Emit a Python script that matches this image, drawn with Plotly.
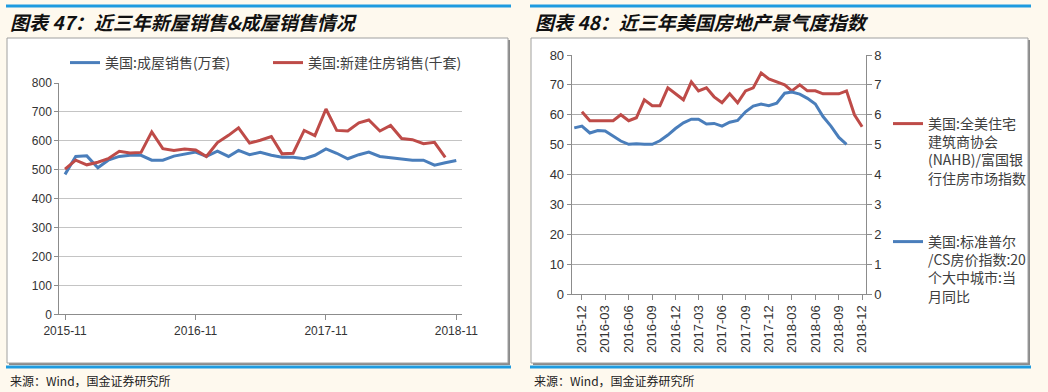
import plotly.graph_objects as go
import pandas as pd

# ---------------- data ----------------
left_months = pd.date_range("2015-11-01", periods=37, freq="MS")
existing_sales = [484, 546, 548, 507, 533, 546, 550, 550, 533, 533, 547, 553, 561,
                  546, 564, 546, 567, 552, 560, 550, 543, 543, 538, 550, 572, 557,
                  538, 552, 561, 546, 541, 538, 533, 533, 516, 524, 532]
new_months = pd.date_range("2015-11-01", periods=36, freq="MS")
new_sales = [502, 533, 517, 526, 538, 564, 558, 560, 631, 573, 567, 572, 568,
             546, 594, 619, 645, 592, 602, 615, 555, 557, 636, 618, 710, 636,
             634, 662, 672, 634, 653, 608, 604, 590, 595, 543]
left_ticks = ["2015-11-01", "2016-11-01", "2017-11-01", "2018-11-01"]

nahb_months = pd.date_range("2015-12-01", periods=37, freq="MS")
nahb = [61, 58, 58, 58, 58, 60, 58, 59, 65, 63, 63, 69, 67, 65, 71, 68, 69, 66, 64,
        67, 64, 68, 69, 74, 72, 71, 70, 68, 70, 68, 68, 67, 67, 67, 68, 60, 56]
cs_months = pd.date_range("2015-11-01", periods=36, freq="MS")
cs_yoy = [5.56, 5.62, 5.39, 5.47, 5.46, 5.29, 5.12, 5.01, 5.03, 5.01, 5.01, 5.13,
          5.32, 5.54, 5.73, 5.85, 5.85, 5.69, 5.71, 5.62, 5.75, 5.81, 6.10, 6.29,
          6.36, 6.30, 6.39, 6.72, 6.76, 6.69, 6.55, 6.36, 5.94, 5.62, 5.24, 5.01]

left_names = ["美国:成屋销售(万套)", "美国:新建住房销售(千套)"]
nahb_name = "美国:全美住宅<br>建筑商协会<br>(NAHB)/富国银<br>行住房市场指数"
cs_name = "美国:标准普尔<br>/CS房价指数:20<br>个大中城市:当<br>月同比"
titles = ["图表 47：近三年新屋销售&成屋销售情况", "图表 48：近三年美国房地产景气度指数"]
source = "来源：Wind，国金证券研究所"

# ---------------- style ----------------
W, H = 1048, 392
BLUE = "#4A7EBB"
RED = "#BE4B48"
CJK = "Noto Sans CJK SC"
NUM = "Liberation Sans"
BG = "#FEF9EE"
ACCENT = "#1E9BE0"
GRID = "#C4C4C4"
AXIS = "#8C8C8C"
TXT = "#333333"


def fx(p):
    return p / W


def fy(p):
    return 1 - p / H


fig = go.Figure()
fig.add_trace(go.Scatter(x=left_months, y=existing_sales, mode="lines", name=left_names[0],
                         line=dict(color=BLUE, width=3), xaxis="x", yaxis="y", legend="legend"))
fig.add_trace(go.Scatter(x=new_months, y=new_sales, mode="lines", name=left_names[1],
                         line=dict(color=RED, width=3), xaxis="x", yaxis="y", legend="legend"))
fig.add_trace(go.Scatter(x=nahb_months, y=nahb, mode="lines", name=nahb_name,
                         line=dict(color=RED, width=3), xaxis="x2", yaxis="y2", legend="legend2"))
fig.add_trace(go.Scatter(x=cs_months, y=cs_yoy, mode="lines", name=cs_name,
                         line=dict(color=BLUE, width=3), xaxis="x2", yaxis="y3", legend="legend3"))

shapes = []
for (x0, x1) in [(7, 508), (531, 1028)]:
    shapes.append(dict(type="rect", xref="paper", yref="paper", x0=fx(x0 + 2), x1=fx(x1 + 2),
                       y0=fy(365), y1=fy(40), fillcolor="#8A8A8A", line=dict(width=0), layer="below"))
    shapes.append(dict(type="rect", xref="paper", yref="paper", x0=fx(x0), x1=fx(x1),
                       y0=fy(363), y1=fy(38), fillcolor="white", line=dict(color="#A0A0A0", width=1),
                       layer="below"))
    shapes.append(dict(type="rect", xref="paper", yref="paper", x0=fx(x0 - 1), x1=fx(x1 + 3),
                       y0=fy(7.5), y1=fy(4.5), fillcolor=ACCENT, line=dict(width=0), layer="below"))
    shapes.append(dict(type="rect", xref="paper", yref="paper", x0=fx(x0 - 1), x1=fx(x1 + 3),
                       y0=fy(368.5), y1=fy(365.5), fillcolor=ACCENT, line=dict(width=0), layer="below"))

annotations = []
for x0, t in zip([8, 533], titles):
    annotations.append(dict(xref="paper", yref="paper", x=fx(x0), y=fy(21), xanchor="left", yanchor="middle",
                            text="<b><i>" + t + "</i></b>", showarrow=False,
                            font=dict(family=CJK, size=19, color="#111111")))
for x0 in [8, 532]:
    annotations.append(dict(xref="paper", yref="paper", x=fx(x0), y=fy(380), xanchor="left", yanchor="middle",
                            text=source, showarrow=False,
                            font=dict(family=CJK, size=12, color="#222222")))

axis_common = dict(showline=True, linecolor=AXIS, linewidth=1, ticks="outside", tickcolor=AXIS,
                   zeroline=False, automargin=False, tickfont=dict(family=NUM, size=12, color=TXT))
font13 = dict(family=NUM, size=13, color=TXT)

fig.update_layout(
    width=W, height=H, autosize=False,
    margin=dict(l=0, r=0, t=0, b=0, pad=0, autoexpand=False),
    paper_bgcolor=BG, plot_bgcolor="white",
    shapes=shapes, annotations=annotations,
    xaxis=dict(domain=[fx(59.3), fx(462)], anchor="y", type="date",
               range=["2015-10-16", "2018-11-17"], tickvals=left_ticks, tickformat="%Y-%m",
               ticklen=5, showgrid=False, **axis_common),
    yaxis=dict(domain=[fy(314.3), fy(83)], anchor="x", range=[0, 800], dtick=100,
               showgrid=True, gridcolor=GRID, ticklen=4, **axis_common),
    xaxis2=dict(domain=[fx(571.7), fx(865.7)], anchor="y2", type="date",
                range=["2015-10-22", "2018-12-15"], tick0="2015-12-01", dtick="M3",
                tickformat="%Y-%m", tickangle=-90, ticklen=5, showgrid=False,
                **{**axis_common, "tickfont": font13}),
    yaxis2=dict(domain=[fy(294), fy(55)], anchor="x2", range=[0, 80], dtick=10,
                showgrid=True, gridcolor="#ABABAB", ticklen=4,
                **{**axis_common, "tickfont": font13}),
    yaxis3=dict(overlaying="y2", anchor="x2", side="right", range=[0, 8], dtick=1,
                showgrid=False, ticklen=5,
                **{**axis_common, "tickfont": font13}),
    legend=dict(orientation="h", x=fx(65), y=fy(63), xanchor="left", yanchor="middle",
                bgcolor="rgba(0,0,0,0)", font=dict(family=CJK, size=14, color="#404040"),
                entrywidth=158, entrywidthmode="pixels", itemwidth=30),
    legend2=dict(x=fx(888), y=fy(108), xanchor="left", yanchor="top", valign="top",
                 bgcolor="rgba(0,0,0,0)", font=dict(family=CJK, size=14, color="#404040"),
                 itemwidth=30),
    legend3=dict(x=fx(888), y=fy(226), xanchor="left", yanchor="top", valign="top",
                 bgcolor="rgba(0,0,0,0)", font=dict(family=CJK, size=14, color="#404040"),
                 itemwidth=30),
    showlegend=True,
)

fig.write_html("out.html", config={"displayModeBar": False},
               post_script="document.body.style.margin='0';document.body.style.background='#FEF9EE';")
